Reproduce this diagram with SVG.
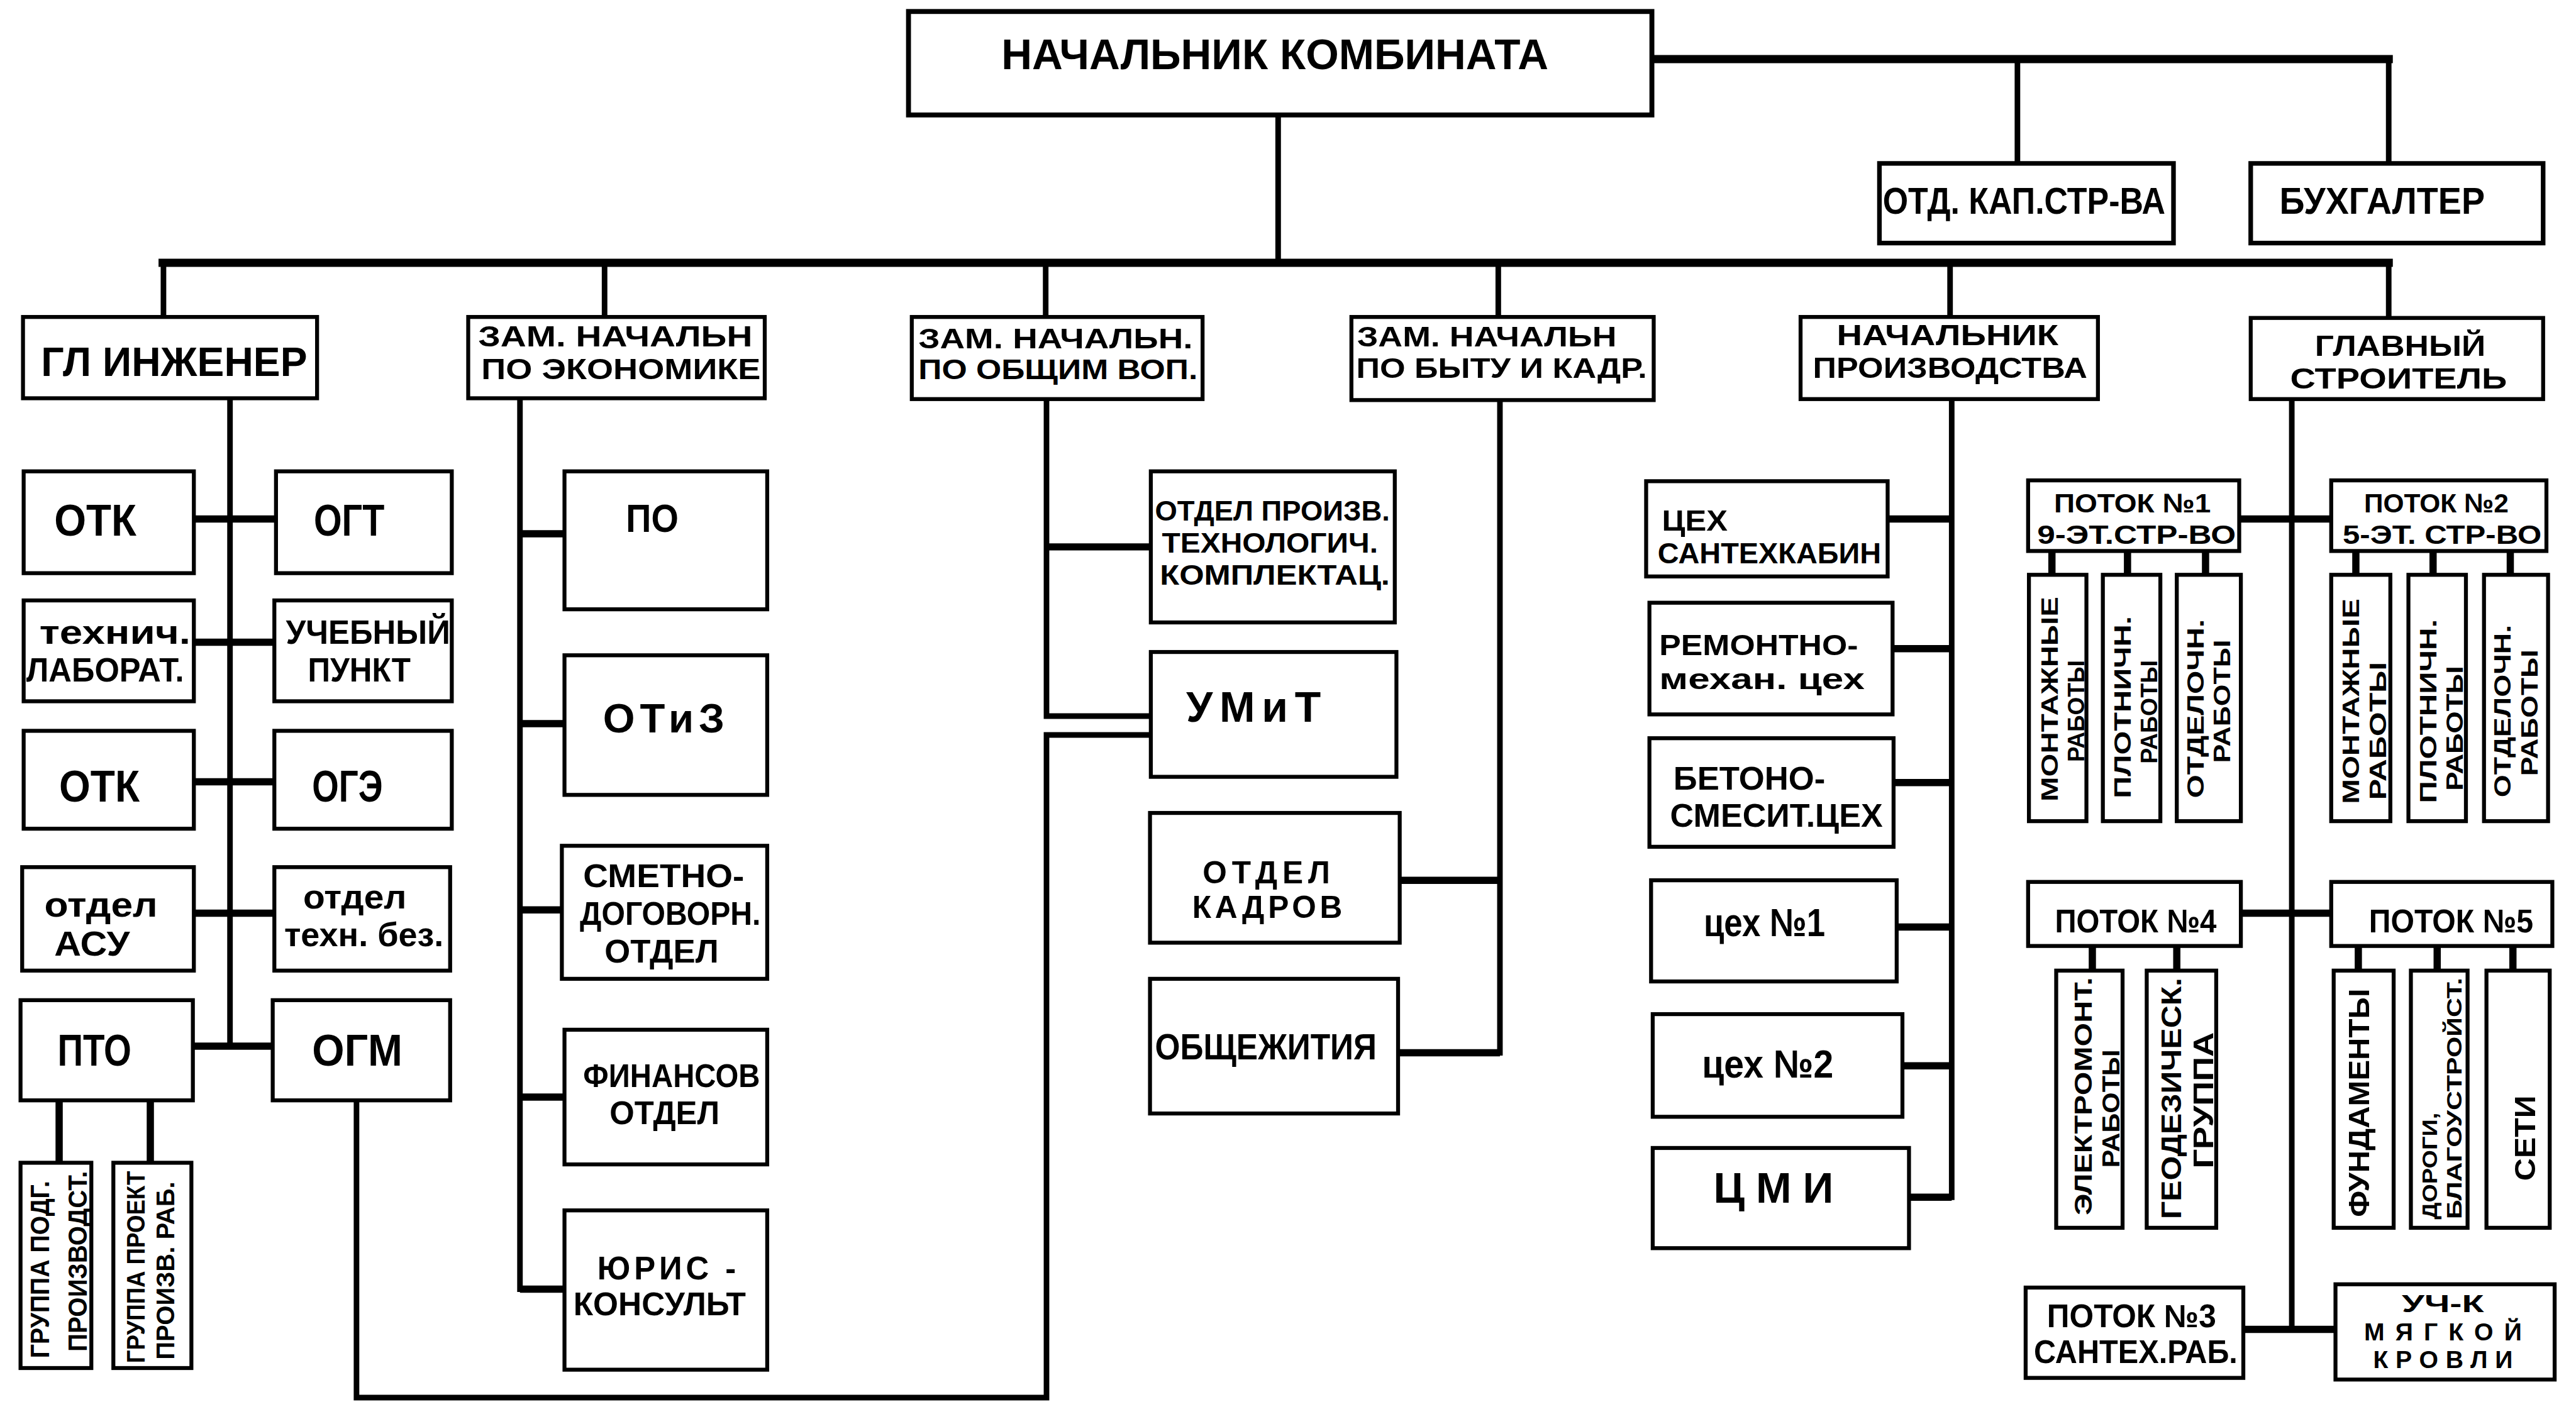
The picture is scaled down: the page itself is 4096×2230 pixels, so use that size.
<svg xmlns="http://www.w3.org/2000/svg" width="4096" height="2230" viewBox="0 0 4096 2230">
<style>
.bx{fill:#fff;stroke:#000;stroke-width:2.4}
.ln{fill:none;stroke:#000;stroke-width:3.4;stroke-linecap:square;stroke-linejoin:miter}
.lk{fill:none;stroke:#000;stroke-width:4.4;stroke-linecap:butt}
.bus{fill:none;stroke:#000;stroke-width:5;stroke-linecap:square}
text{font-family:"Liberation Sans",Arial,sans-serif;font-weight:bold;fill:#000;text-anchor:middle}
</style>
<rect x="0" y="0" width="4096" height="2230" fill="#fff"/>
<g transform="scale(2.612245)">
<g id="connectors">
<path class="ln" d="M778,70 V160"/>
<path class="bus" d="M1005,36 H1454"/>
<path class="ln" d="M1228,36 V99.5 M1454,36 V99.5"/>
<path class="bus" d="M99,160 H1454"/>
<path class="ln" d="M99.5,160 V193 M368,160 V193 M636.5,160 V193 M912,160 V193 M1187,160 V193 M1454,160 V193.6"/>
<path class="ln" d="M140,242.5 V637"/>
<path class="lk" d="M118,316 H168 M118,391 H167 M118,476 H167 M118,556 H167 M117.4,637 H166"/>
<path class="lk" d="M36,670 V708 M91.5,670 V708"/>
<path class="ln" d="M217,670 V851 H637 V447.5 H700.5"/>
<path class="ln" d="M316.5,242.5 V785"/>
<path class="lk" d="M316.5,325 H343.6 M316.5,440.6 H343.6 M316.5,554 H342 M316.5,668 H343.6 M316.5,785 H343.6"/>
<path class="ln" d="M637,243 V436 H700.5"/>
<path class="lk" d="M637,333 H700.5"/>
<path class="ln" d="M913,243.6 V641"/>
<path class="lk" d="M852,536 H913 M851,641 H913"/>
<path class="ln" d="M1188,243 V729"/>
<path class="lk" d="M1149,316 H1188 M1152,395 H1188 M1152.6,476.5 H1188 M1154.5,564.5 H1188 M1158,649 H1188 M1162,729 H1188"/>
<path class="ln" d="M1395,243 V809.5"/>
<path class="lk" d="M1363,316 H1419 M1364,556 H1419 M1365.5,809.5 H1421.6"/>
<path class="lk" d="M1249,335.5 V350 M1295,335.5 V350 M1342.5,335.5 V350 M1434,335.5 V350 M1481,335.5 V350 M1528,335.5 V350"/>
<path class="lk" d="M1273.6,576 V591 M1325,576 V591 M1435.5,576 V591 M1483.5,576 V591 M1529.6,576 V591"/>
</g>

<g id="n-nachalnik-kombinata"><rect class="bx" x="553" y="7" width="452.5" height="63" style="stroke-width:3"/>
<text x="776" y="42" font-size="26" textLength="333" lengthAdjust="spacingAndGlyphs">НАЧАЛЬНИК  КОМБИНАТА</text></g>
<g id="n-otd-kap"><rect class="bx" x="1144" y="99.5" width="179" height="48.5" style="stroke-width:2.8"/>
<text x="1232" y="130" font-size="23" textLength="172" lengthAdjust="spacingAndGlyphs">ОТД. КАП.СТР-ВА</text></g>
<g id="n-buhgalter"><rect class="bx" x="1370" y="99.5" width="178" height="48.5" style="stroke-width:2.8"/>
<text x="1450" y="130" font-size="23" textLength="125" lengthAdjust="spacingAndGlyphs">БУХГАЛТЕР</text></g>

<g id="n-gl-inzhener"><rect class="bx" x="14" y="193" width="179" height="49.5"/>
<text x="106" y="229" font-size="25" textLength="162" lengthAdjust="spacingAndGlyphs">ГЛ ИНЖЕНЕР</text></g>
<g id="n-zam-ekonom"><rect class="bx" x="285" y="193" width="180.5" height="49.5"/>
<text x="374.5" y="211" font-size="17.5" textLength="167" lengthAdjust="spacingAndGlyphs">ЗАМ. НАЧАЛЬН</text>
<text x="378" y="231" font-size="17.5" textLength="170" lengthAdjust="spacingAndGlyphs">ПО ЭКОНОМИКЕ</text></g>
<g id="n-zam-obsh"><rect class="bx" x="555" y="193" width="177" height="50"/>
<text x="642.5" y="212" font-size="17" textLength="167" lengthAdjust="spacingAndGlyphs">ЗАМ. НАЧАЛЬН.</text>
<text x="644" y="231" font-size="17" textLength="170" lengthAdjust="spacingAndGlyphs">ПО ОБЩИМ ВОП.</text></g>
<g id="n-zam-byt"><rect class="bx" x="822.6" y="193" width="184" height="50.6"/>
<text x="905" y="211" font-size="17" textLength="158" lengthAdjust="spacingAndGlyphs">ЗАМ. НАЧАЛЬН</text>
<text x="914" y="230" font-size="17" textLength="177" lengthAdjust="spacingAndGlyphs">ПО БЫТУ И КАДР.</text></g>
<g id="n-nach-proizv"><rect class="bx" x="1096" y="193" width="181" height="50"/>
<text x="1185.5" y="210" font-size="17.8" textLength="135" lengthAdjust="spacingAndGlyphs">НАЧАЛЬНИК</text>
<text x="1187" y="230" font-size="17.8" textLength="167" lengthAdjust="spacingAndGlyphs">ПРОИЗВОДСТВА</text></g>
<g id="n-gl-stroitel"><rect class="bx" x="1370" y="193.6" width="178" height="49.4"/>
<text x="1461" y="216.5" font-size="17.5" textLength="104" lengthAdjust="spacingAndGlyphs">ГЛАВНЫЙ</text>
<text x="1460" y="236.5" font-size="17.5" textLength="132" lengthAdjust="spacingAndGlyphs">СТРОИТЕЛЬ</text></g>

<g id="n-otk1"><rect class="bx" x="14.4" y="287" width="103.6" height="62"/>
<text x="58" y="326" font-size="27" textLength="50" lengthAdjust="spacingAndGlyphs">ОТК</text></g>
<g id="n-ogt"><rect class="bx" x="168" y="287" width="107" height="62"/>
<text x="212.5" y="326" font-size="27" textLength="43" lengthAdjust="spacingAndGlyphs">ОГТ</text></g>
<g id="n-tehn-lab"><rect class="bx" x="14.4" y="365.6" width="103.6" height="61.4"/>
<text x="70" y="392" font-size="20.5" textLength="92" lengthAdjust="spacingAndGlyphs">технич.</text>
<text x="64" y="415" font-size="20.5" textLength="96" lengthAdjust="spacingAndGlyphs">ЛАБОРАТ.</text></g>
<g id="n-ucheb"><rect class="bx" x="167" y="365.6" width="108" height="61.4"/>
<text x="224" y="392" font-size="20.5" textLength="100" lengthAdjust="spacingAndGlyphs">УЧЕБНЫЙ</text>
<text x="218.7" y="415" font-size="20.5" textLength="62.6" lengthAdjust="spacingAndGlyphs">ПУНКТ</text></g>
<g id="n-otk2"><rect class="bx" x="14.4" y="445" width="103.6" height="59.6"/>
<text x="60.5" y="488" font-size="27" textLength="49" lengthAdjust="spacingAndGlyphs">ОТК</text></g>
<g id="n-oge"><rect class="bx" x="167" y="445" width="108" height="59.6"/>
<text x="211.5" y="488" font-size="27" textLength="43" lengthAdjust="spacingAndGlyphs">ОГЭ</text></g>
<g id="n-asu"><rect class="bx" x="13.5" y="528" width="104.5" height="63"/>
<text x="61.5" y="558" font-size="21" textLength="69" lengthAdjust="spacingAndGlyphs">отдел</text>
<text x="56" y="582" font-size="21" textLength="46" lengthAdjust="spacingAndGlyphs">АСУ</text></g>
<g id="n-tehn-bez"><rect class="bx" x="167" y="528" width="107" height="63"/>
<text x="216" y="553" font-size="20.5" textLength="63" lengthAdjust="spacingAndGlyphs">отдел</text>
<text x="221.5" y="576" font-size="20.5" textLength="97" lengthAdjust="spacingAndGlyphs">техн. без.</text></g>
<g id="n-pto"><rect class="bx" x="12.5" y="609" width="104.9" height="61"/>
<text x="57.5" y="649" font-size="27" textLength="45" lengthAdjust="spacingAndGlyphs">ПТО</text></g>
<g id="n-ogm"><rect class="bx" x="166" y="609" width="108" height="61"/>
<text x="217.5" y="649" font-size="27" textLength="55" lengthAdjust="spacingAndGlyphs">ОГМ</text></g>
<g id="n-gr-podg"><rect class="bx" x="12.5" y="708" width="43.1" height="125"/>
<text transform="translate(30,773) rotate(-90)" font-size="16" textLength="108" lengthAdjust="spacingAndGlyphs">ГРУППА ПОДГ.</text>
<text transform="translate(53,768) rotate(-90)" font-size="16" textLength="110" lengthAdjust="spacingAndGlyphs">ПРОИЗВОДСТ.</text></g>
<g id="n-gr-proekt"><rect class="bx" x="69" y="708" width="47.5" height="125"/>
<text transform="translate(88,771.5) rotate(-90)" font-size="15.5" textLength="117" lengthAdjust="spacingAndGlyphs">ГРУППА ПРОЕКТ</text>
<text transform="translate(106,773.7) rotate(-90)" font-size="15.5" textLength="108.5" lengthAdjust="spacingAndGlyphs">ПРОИЗВ. РАБ.</text></g>

<g id="n-po"><rect class="bx" x="343.6" y="287" width="123.4" height="84"/>
<text x="397" y="324" font-size="24" textLength="32" lengthAdjust="spacingAndGlyphs">ПО</text></g>
<g id="n-otiz"><rect class="bx" x="343.6" y="399" width="123.4" height="85"/>
<text x="404" y="446" font-size="25" textLength="74" lengthAdjust="spacing">ОТиЗ</text></g>
<g id="n-smetno"><rect class="bx" x="342" y="515" width="125" height="81"/>
<text x="404" y="540" font-size="20" textLength="98" lengthAdjust="spacingAndGlyphs">СМЕТНО-</text>
<text x="408" y="563" font-size="20" textLength="110" lengthAdjust="spacingAndGlyphs">ДОГОВОРН.</text>
<text x="402.7" y="586" font-size="20" textLength="69.5" lengthAdjust="spacingAndGlyphs">ОТДЕЛ</text></g>
<g id="n-finans"><rect class="bx" x="343.6" y="627" width="123.4" height="82"/>
<text x="408.8" y="662" font-size="19.5" textLength="107.6" lengthAdjust="spacingAndGlyphs">ФИНАНСОВ</text>
<text x="404.5" y="684.5" font-size="19.5" textLength="67" lengthAdjust="spacingAndGlyphs">ОТДЕЛ</text></g>
<g id="n-yuris"><rect class="bx" x="343.6" y="737" width="123.4" height="97"/>
<text x="405.8" y="779" font-size="19.5" textLength="84.4" lengthAdjust="spacing">ЮРИС -</text>
<text x="401.5" y="801" font-size="19.5" textLength="105" lengthAdjust="spacingAndGlyphs">КОНСУЛЬТ</text></g>

<g id="n-optk"><rect class="bx" x="700.5" y="287" width="148.5" height="92"/>
<text x="774.5" y="317" font-size="17" textLength="143" lengthAdjust="spacingAndGlyphs">ОТДЕЛ ПРОИЗВ.</text>
<text x="773" y="336.5" font-size="17" textLength="131.5" lengthAdjust="spacingAndGlyphs">ТЕХНОЛОГИЧ.</text>
<text x="776" y="356" font-size="17" textLength="140" lengthAdjust="spacingAndGlyphs">КОМПЛЕКТАЦ.</text></g>
<g id="n-umit"><rect class="bx" x="700.5" y="397" width="149.5" height="76"/>
<text x="763" y="439.5" font-size="26" textLength="82" lengthAdjust="spacing">УМиТ</text></g>
<g id="n-kadrov"><rect class="bx" x="700" y="495" width="152" height="79"/>
<text x="770.8" y="537.7" font-size="19" textLength="77.5" lengthAdjust="spacing">ОТДЕЛ</text>
<text x="771.4" y="559" font-size="19" textLength="91.3" lengthAdjust="spacing">КАДРОВ</text></g>
<g id="n-obshezhitiya"><rect class="bx" x="700" y="596" width="151" height="82"/>
<text x="770.5" y="645" font-size="22" textLength="135" lengthAdjust="spacingAndGlyphs">ОБЩЕЖИТИЯ</text></g>

<g id="n-santeh"><rect class="bx" x="1002" y="293" width="147" height="58"/>
<text x="1031.6" y="323" font-size="17.8" textLength="40" lengthAdjust="spacingAndGlyphs">ЦЕХ</text>
<text x="1077" y="343" font-size="17.8" textLength="136" lengthAdjust="spacingAndGlyphs">САНТЕХКАБИН</text></g>
<g id="n-remont"><rect class="bx" x="1004" y="367" width="148" height="68"/>
<text x="1070.5" y="399" font-size="18" textLength="121" lengthAdjust="spacingAndGlyphs">РЕМОНТНО-</text>
<text x="1072.5" y="419.5" font-size="18" textLength="125" lengthAdjust="spacingAndGlyphs">механ. цех</text></g>
<g id="n-beton"><rect class="bx" x="1004" y="449.5" width="148.6" height="66.1"/>
<text x="1064.8" y="481" font-size="20" textLength="92.4" lengthAdjust="spacingAndGlyphs">БЕТОНО-</text>
<text x="1081.3" y="503.5" font-size="20" textLength="129.4" lengthAdjust="spacingAndGlyphs">СМЕСИТ.ЦЕХ</text></g>
<g id="n-ceh1"><rect class="bx" x="1005" y="536" width="149.5" height="61.6"/>
<text x="1074" y="570" font-size="24" textLength="74" lengthAdjust="spacingAndGlyphs">цех №1</text></g>
<g id="n-ceh2"><rect class="bx" x="1006" y="617.5" width="152" height="62.5"/>
<text x="1076" y="656" font-size="24" textLength="80" lengthAdjust="spacingAndGlyphs">цех №2</text></g>
<g id="n-cmi"><rect class="bx" x="1006" y="699" width="156" height="61"/>
<text x="1079.5" y="732.5" font-size="26" textLength="73" lengthAdjust="spacing">ЦМИ</text></g>

<g id="n-potok1"><rect class="bx" x="1234.5" y="292.5" width="128.5" height="43"/>
<text x="1298" y="312" font-size="16.5" textLength="95.5" lengthAdjust="spacingAndGlyphs">ПОТОК №1</text>
<text x="1300.5" y="331" font-size="16.5" textLength="121" lengthAdjust="spacingAndGlyphs">9-ЭТ.СТР-ВО</text></g>
<g id="n-potok2"><rect class="bx" x="1419" y="292.5" width="131" height="43"/>
<text x="1483" y="312" font-size="16.5" textLength="88" lengthAdjust="spacingAndGlyphs">ПОТОК №2</text>
<text x="1486.5" y="331" font-size="16.5" textLength="121" lengthAdjust="spacingAndGlyphs">5-ЭТ. СТР-ВО</text></g>
<g id="n-p1-mont"><rect class="bx" x="1235" y="350" width="35" height="150"/>
<text transform="translate(1252.5,425.7) rotate(-90)" font-size="14" textLength="124.7" lengthAdjust="spacingAndGlyphs">МОНТАЖНЫЕ</text>
<text transform="translate(1268.5,433) rotate(-90)" font-size="14" textLength="62" lengthAdjust="spacingAndGlyphs">РАБОТЫ</text></g>
<g id="n-p1-plot"><rect class="bx" x="1280" y="350" width="35" height="150"/>
<text transform="translate(1297,430.6) rotate(-90)" font-size="14" textLength="111" lengthAdjust="spacingAndGlyphs">ПЛОТНИЧН.</text>
<text transform="translate(1313,433.5) rotate(-90)" font-size="14" textLength="63" lengthAdjust="spacingAndGlyphs">РАБОТЫ</text></g>
<g id="n-p1-otd"><rect class="bx" x="1325" y="350" width="39" height="150"/>
<text transform="translate(1341.4,431.5) rotate(-90)" font-size="14" textLength="109" lengthAdjust="spacingAndGlyphs">ОТДЕЛОЧН.</text>
<text transform="translate(1357.6,427) rotate(-90)" font-size="14" textLength="75" lengthAdjust="spacingAndGlyphs">РАБОТЫ</text></g>
<g id="n-p2-mont"><rect class="bx" x="1419" y="350" width="36" height="150"/>
<text transform="translate(1436,427) rotate(-90)" font-size="14" textLength="125" lengthAdjust="spacingAndGlyphs">МОНТАЖНЫЕ</text>
<text transform="translate(1452.2,445) rotate(-90)" font-size="14" textLength="84" lengthAdjust="spacingAndGlyphs">РАБОТЫ</text></g>
<g id="n-p2-plot"><rect class="bx" x="1466" y="350" width="35" height="150"/>
<text transform="translate(1483,433) rotate(-90)" font-size="14" textLength="112" lengthAdjust="spacingAndGlyphs">ПЛОТНИЧН.</text>
<text transform="translate(1499.2,443.5) rotate(-90)" font-size="14" textLength="76" lengthAdjust="spacingAndGlyphs">РАБОТЫ</text></g>
<g id="n-p2-otd"><rect class="bx" x="1512" y="350" width="39" height="150"/>
<text transform="translate(1528.3,433) rotate(-90)" font-size="14" textLength="105" lengthAdjust="spacingAndGlyphs">ОТДЕЛОЧН.</text>
<text transform="translate(1544.5,434) rotate(-90)" font-size="14" textLength="77" lengthAdjust="spacingAndGlyphs">РАБОТЫ</text></g>

<g id="n-potok4"><rect class="bx" x="1234.5" y="537" width="129.5" height="39"/>
<text x="1300" y="567.7" font-size="20" textLength="98.4" lengthAdjust="spacingAndGlyphs">ПОТОК №4</text></g>
<g id="n-potok5"><rect class="bx" x="1419" y="537" width="134.6" height="39"/>
<text x="1492" y="567.7" font-size="20" textLength="100" lengthAdjust="spacingAndGlyphs">ПОТОК №5</text></g>
<g id="n-p4-elektro"><rect class="bx" x="1251.6" y="591" width="40.4" height="156.6"/>
<text transform="translate(1273.4,667.5) rotate(-90)" font-size="14.5" textLength="145" lengthAdjust="spacingAndGlyphs">ЭЛЕКТРОМОНТ.</text>
<text transform="translate(1290,675) rotate(-90)" font-size="14.5" textLength="72" lengthAdjust="spacingAndGlyphs">РАБОТЫ</text></g>
<g id="n-p4-geodez"><rect class="bx" x="1306.7" y="591" width="42.3" height="156.6"/>
<text transform="translate(1327.6,668.8) rotate(-90)" font-size="17" textLength="147" lengthAdjust="spacingAndGlyphs">ГЕОДЕЗИЧЕСК.</text>
<text transform="translate(1347,670) rotate(-90)" font-size="17" textLength="83" lengthAdjust="spacingAndGlyphs">ГРУППА</text></g>
<g id="n-p5-fund"><rect class="bx" x="1420.5" y="591" width="36.5" height="156.6"/>
<text transform="translate(1442,671.5) rotate(-90)" font-size="18" textLength="139" lengthAdjust="spacingAndGlyphs">ФУНДАМЕНТЫ</text></g>
<g id="n-p5-dorogi"><rect class="bx" x="1467.5" y="591" width="34.5" height="156.6"/>
<text transform="translate(1483.5,710) rotate(-90)" font-size="13" textLength="65" lengthAdjust="spacingAndGlyphs">ДОРОГИ,</text>
<text transform="translate(1498.3,668.8) rotate(-90)" font-size="13" textLength="147" lengthAdjust="spacingAndGlyphs">БЛАГОУСТРОЙСТ.</text></g>
<g id="n-p5-seti"><rect class="bx" x="1513.5" y="591" width="38.5" height="156.6"/>
<text transform="translate(1543,693) rotate(-90)" font-size="18" textLength="52" lengthAdjust="spacingAndGlyphs">СЕТИ</text></g>
<g id="n-potok3"><rect class="bx" x="1233" y="784" width="132.5" height="55"/>
<text x="1297.5" y="808" font-size="19.5" textLength="103" lengthAdjust="spacingAndGlyphs">ПОТОК №3</text>
<text x="1300" y="830" font-size="19.5" textLength="124" lengthAdjust="spacingAndGlyphs">САНТЕХ.РАБ.</text></g>
<g id="n-krovli"><rect class="bx" x="1421.6" y="782" width="133.4" height="58"/>
<text x="1487" y="799" font-size="15" textLength="50" lengthAdjust="spacingAndGlyphs">УЧ-К</text>
<text x="1487" y="816" font-size="15" textLength="96" lengthAdjust="spacing">МЯГКОЙ</text>
<text x="1487" y="833" font-size="15" textLength="85" lengthAdjust="spacing">КРОВЛИ</text></g>
</g>
</svg>
